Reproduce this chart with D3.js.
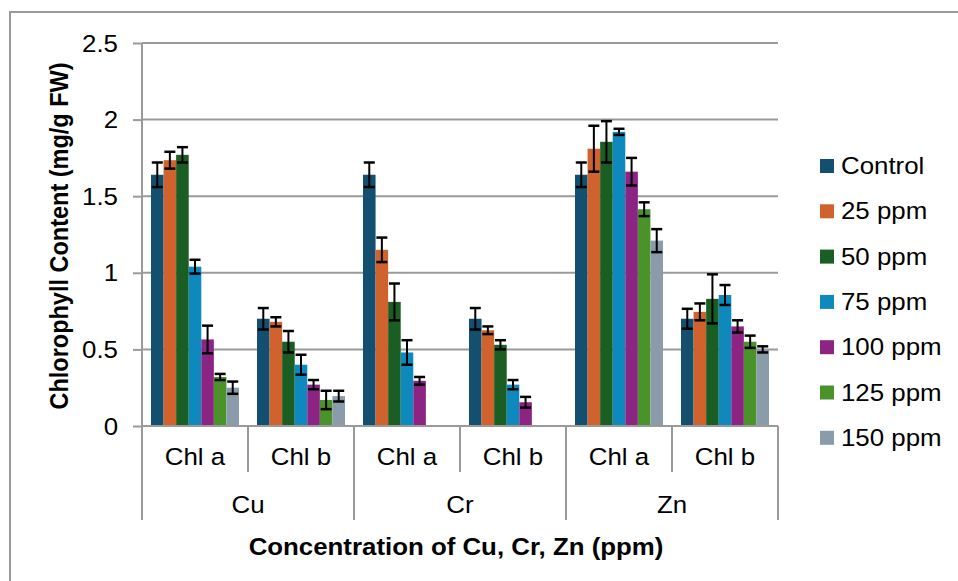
<!DOCTYPE html>
<html><head><meta charset="utf-8">
<script src="https://cdn.jsdelivr.net/npm/d3@7"></script>
<style>body{margin:0;background:#fff;} svg{display:block;font-family:"Liberation Sans",Arial,sans-serif;}</style>
</head><body><svg id="c" width="958" height="581"></svg>
<script>
const metals = ["Cu","Cr","Zn"];
const pigments = ["Chl a","Chl b"];
const series = ["Control","25 ppm","50 ppm","75 ppm","100 ppm","125 ppm","150 ppm"];
const colors = ["#13506F","#D0622D","#1A5E23","#0E89BE","#8C2483","#4A932B","#8A9BAA"];
const yTicks = [0,0.5,1,1.5,2,2.5];
// values per group (Cu Chl a, Cu Chl b, Cr Chl a, Cr Chl b, Zn Chl a, Zn Chl b), one array per series
const control = [1.64,0.70,1.64,0.70,1.64,0.70];
const ppm25   = [1.735,0.68,1.15,0.625,1.81,0.745];
const ppm50   = [1.77,0.55,0.81,0.53,1.855,0.83];
const ppm75   = [1.04,0.40,0.48,0.27,1.92,0.855];
const ppm100  = [0.565,0.27,0.295,0.155,1.66,0.65];
const ppm125  = [0.32,0.17,0,0,1.415,0.55];
const ppm150  = [0.25,0.195,0,0,1.21,0.50];
const errControl = [0.08,0.07,0.08,0.07,0.08,0.065];
const err25   = [0.055,0.03,0.08,0.025,0.15,0.055];
const err50   = [0.05,0.07,0.12,0.03,0.135,0.16];
const err75   = [0.045,0.065,0.08,0.03,0.02,0.065];
const err100  = [0.09,0.03,0.025,0.035,0.09,0.04];
const err125  = [0.02,0.06,0,0,0.045,0.04];
const err150  = [0.04,0.035,0,0,0.075,0.02];

(function(){
const values = [control,ppm25,ppm50,ppm75,ppm100,ppm125,ppm150];
const errs = [errControl,err25,err50,err75,err100,err125,err150];
const groups = [];
metals.forEach(m=>pigments.forEach(p=>groups.push({m,p,key:m+"|"+p})));

const svg = d3.select("#c");
const gray = "#9A9A9A";
const FS = 23.5, SX = 1.1;
function label(x0,y0,txt,anchor,bold){
  return svg.append("text").attr("transform",`translate(${x0},${y0}) scale(${SX},1)`)
    .attr("text-anchor",anchor||"start").attr("font-size",FS)
    .attr("font-weight",bold?"bold":"normal").attr("fill","#000").text(txt);
}
svg.append("rect").attr("x",10).attr("y",12).attr("width",960).attr("height",600)
  .attr("fill","none").attr("stroke",gray).attr("stroke-width",2);

const pl=142, pr=778, pt=43, base=426;
const y = d3.scaleLinear().domain([0,2.5]).range([base,pt]);
const x = d3.scaleBand().domain(groups.map(g=>g.key)).range([pl,pr]);
const xs = d3.scaleBand().domain(series).range([9, x.bandwidth()-9]);

svg.append("g").selectAll("line").data(yTicks.filter(t=>t>0)).join("line")
  .attr("x1",pl).attr("x2",pr).attr("y1",d=>y(d)).attr("y2",d=>y(d))
  .attr("stroke",gray).attr("stroke-width",2);

const ya = svg.append("g").attr("transform",`translate(${pl},0)`)
  .call(d3.axisLeft(y).tickValues(yTicks).tickFormat(d=>String(d)).tickSize(9).tickPadding(15));
ya.select(".domain").remove();
ya.selectAll(".tick line").attr("stroke",gray).attr("stroke-width",2);
ya.selectAll(".tick text").attr("font-size",FS).attr("fill","#000")
  .attr("font-family","Liberation Sans, Arial, sans-serif")
  .attr("dy",null).attr("x",null)
  .attr("transform",`translate(-24,8) scale(${SX},1)`);
svg.append("line").attr("x1",pl).attr("x2",pl).attr("y1",pt).attr("y2",520).attr("stroke",gray).attr("stroke-width",2);

const gg = svg.append("g").selectAll("g").data(groups).join("g")
  .attr("transform",(d)=>`translate(${x(d.key)},0)`);
series.forEach((s,si)=>{
  gg.append("rect").attr("x",xs(s)).attr("width",xs.bandwidth())
    .attr("y",(d,gi)=>y(values[si][gi])).attr("height",(d,gi)=>base-y(values[si][gi]))
    .attr("fill",colors[si]);
});
svg.append("line").attr("x1",pl).attr("x2",pr).attr("y1",base).attr("y2",base).attr("stroke",gray).attr("stroke-width",2);
series.forEach((s,si)=>{
  const cx = xs(s)+xs.bandwidth()/2, hw=5.5;
  const sub = gg.filter((d,gi)=>values[si][gi]>0);
  const zero = gg.filter((d,gi)=>values[si][gi]<=0);
  zero.append("line").attr("x1",xs(s)).attr("x2",xs(s)+xs.bandwidth()).attr("y1",base).attr("y2",base)
    .attr("stroke","#858585").attr("stroke-width",2);
  const eb = sub.append("g").attr("stroke","#000").attr("stroke-width",2);
  const hi=(d)=>{const gi=groups.indexOf(d);return y(values[si][gi]+errs[si][gi]);};
  const lo=(d)=>{const gi=groups.indexOf(d);return y(Math.max(0,values[si][gi]-errs[si][gi]));};
  eb.append("line").attr("x1",cx).attr("x2",cx).attr("y1",hi).attr("y2",lo);
  eb.append("line").attr("x1",cx-hw).attr("x2",cx+hw).attr("y1",hi).attr("y2",hi).attr("stroke-width",2.5);
  eb.append("line").attr("x1",cx-hw).attr("x2",cx+hw).attr("y1",lo).attr("y2",lo).attr("stroke-width",2.5);
});

groups.forEach((g,i)=>{
  const xr = x(g.key)+x.bandwidth();
  const outer = (i%2===1);
  svg.append("line").attr("x1",xr).attr("x2",xr).attr("y1",base).attr("y2",outer?520:472)
    .attr("stroke",gray).attr("stroke-width",2);
  label(x(g.key)+x.bandwidth()/2,465,g.p,"middle");
});
metals.forEach((m)=>{
  const x0 = x(m+"|Chl a"), x1 = x(m+"|Chl b")+x.bandwidth();
  label((x0+x1)/2,513,m,"middle");
});

label((pl+pr)/2-4,555,"Concentration of Cu, Cr, Zn (ppm)","middle",true);
svg.append("text").attr("transform",`translate(68,236) scale(${SX},1) rotate(-90)`).attr("text-anchor","middle")
  .attr("font-size",FS).attr("font-weight","bold").text("Chlorophyll Content (mg/g FW)");

series.forEach((s,i)=>{
  const yy = 166+i*45.3;
  svg.append("rect").attr("x",820).attr("y",yy-7).attr("width",14).attr("height",14).attr("fill",colors[i]);
  label(841,yy+8,s,"start");
});
})();
</script></body></html>
